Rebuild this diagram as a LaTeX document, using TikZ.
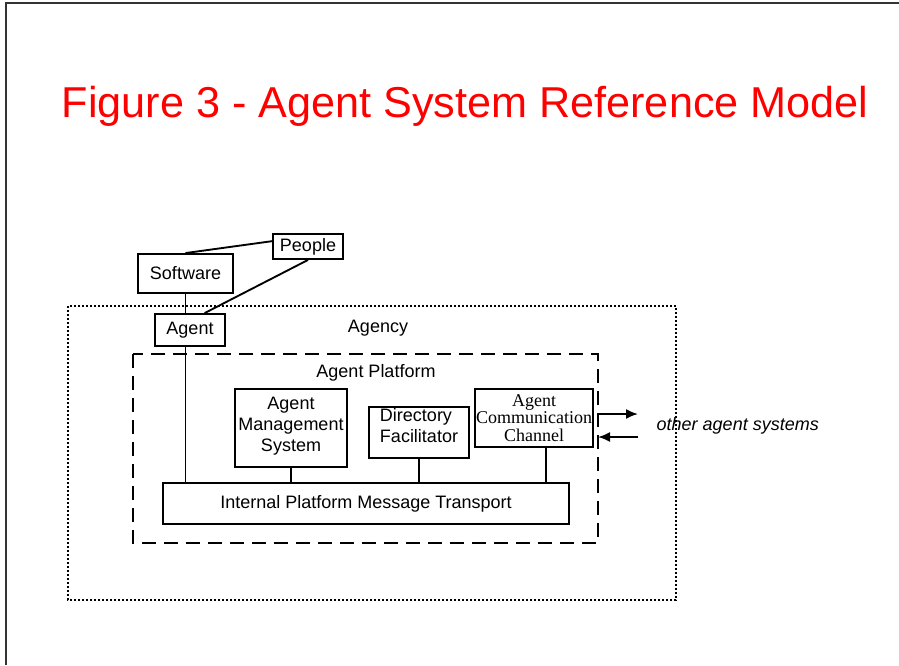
\documentclass[tikz,border=0pt]{standalone}
\usepackage{fontspec}
\setmainfont{Liberation Sans}
\newfontfamily\accfont{Liberation Serif}
\usetikzlibrary{arrows.meta}

\tikzset{
  box/.style={draw, line width=1.4pt, inner sep=0pt, align=center,
    font=\fontsize{13.5}{15.75}\selectfont},
  conn/.style={line width=1.4pt},
  plain/.style={font=\fontsize{13.5}{15.75}\selectfont},
}

\begin{document}
\begin{tikzpicture}[x=0.75pt,y=-0.75pt]
			\useasboundingbox (0,0) rectangle (899,665);
			% page frame and title
			\draw[line width=1.8pt, black!80] (6,665) -- (6,3) -- (899,3);
			\node[red, anchor=base, font=\fontsize{32.4}{38}\selectfont] (title) at (465,117) {Figure 3 - Agent System Reference Model};
			% agency and platform
			\draw[line width=1.3pt, dash pattern=on 1.5pt off 1.5pt] (68,306) rectangle (676,600);
			\node[plain] (agency) at (378,328) {Agency};
			\draw[line width=1.3pt, dash pattern=on 10.5pt off 6pt] (133,354) rectangle (598,543);
			\node[plain] (platlabel) at (376,373) {Agent Platform};
			% outside
			\node[box, minimum width=71.25pt, minimum height=29.25pt] (software) at (185.5,273.5) {Software};
			\node[box, minimum width=52.5pt, minimum height=18.75pt] (people) at (308,246.5) {People};
			\node[box, minimum width=52.5pt, minimum height=24pt] (agent) at (190,330) {Agent};
			% platform parts
			\node[box, minimum width=84pt, minimum height=58.5pt, text depth=6pt] (ams) at (291,428) {Agent\\Management\\System};
			\node[box, minimum width=75pt, minimum height=38.25pt, text depth=10pt, align=left] (df) at (419,432.5) {Directory\\Facilitator};
			\node[box, minimum width=88.5pt, minimum height=43.5pt, font=\accfont\fontsize{13.5}{13.1}\selectfont] (acc) at (534,418) {Agent\\Communication\\Channel};
			\node[box, minimum width=304.5pt, minimum height=30.75pt] (ipmt) at (366,503.5) {Internal Platform Message Transport};
			% connectors
			\draw[conn] ([yshift=4pt]people.west) -- (software.north);
			\draw[conn] (people.south) -- ([xshift=11pt]agent.north);
			\draw[conn] (software.south) -- (software.south |- agent.north);
			\draw[conn] (software.south |- agent.south) -- (software.south |- ipmt.north);
			\draw[conn] (ams.south) -- (ams.south |- ipmt.north);
			\draw[conn] (df.south) -- (df.south |- ipmt.north);
			\draw[conn] ([xshift=9pt]acc.south) -- ([xshift=9pt]acc.south |- ipmt.north);
			% to other agent systems
			\coordinate (outa) at (598,414);
			\coordinate (outb) at (638,414);
			\coordinate (ina) at (638,437);
			\coordinate (inb) at (598,437);
			\draw[conn, -{Latex[length=9pt,width=7.5pt]}] (outa) -- (outb);
			\draw[conn, -{Latex[length=9pt,width=7.5pt]}] (ina) -- (inb);
			\node[anchor=west, font=\itshape\fontsize{13.5}{16}\selectfont] (others) at (652,426) {other agent systems};
		\end{tikzpicture}
\end{document}
